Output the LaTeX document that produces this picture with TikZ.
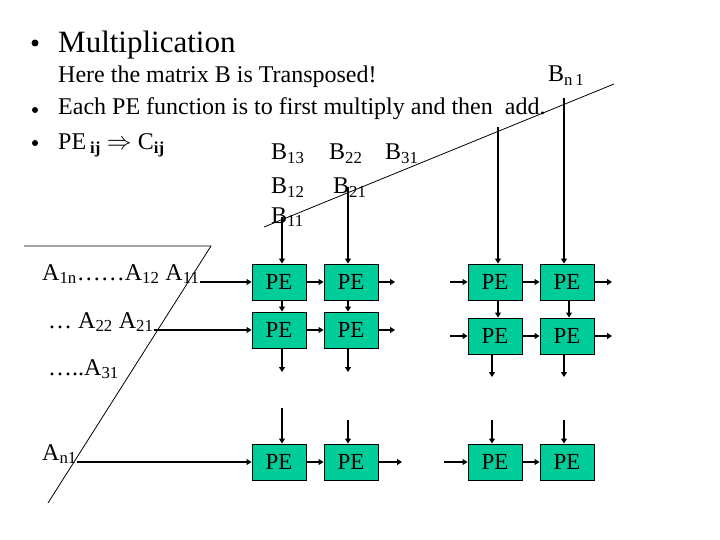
\documentclass[tikz,border=0pt]{standalone}
\usepackage{fontspec}
\setmainfont{Liberation Serif}
\usetikzlibrary{arrows.meta}
\definecolor{pegreen}{RGB}{0,204,153}
\begin{document}
\begin{tikzpicture}[x=1pt,y=-1pt,
  pe/.style={draw=black, line width=1pt, fill=pegreen, minimum width=54pt, minimum height=36pt, inner sep=0pt, font=\fontsize{23}{23}\selectfont},
  arr/.style={line width=1.8pt, -{Triangle[length=5pt,width=6pt]}},
  lbl/.style={anchor=base west, inner sep=0pt, font=\fontsize{24}{28}\selectfont},
  ttl/.style={anchor=base west, inner sep=0pt, font=\fontsize{31}{34}\selectfont},
  bul/.style={circle, fill=black, inner sep=0pt, minimum size=#1},
  slash/.style={line width=0.8pt}]
\useasboundingbox (0,0) rectangle (720,540);
% texts
\node[bul=7pt] (b0) at (35,43) {};
\node[ttl] (title) at (58,53) {Multiplication};
\node[lbl] (here) at (58,83) {Here the matrix B is Transposed!};
\node[bul=6pt] (b1) at (35,110) {};
\node[lbl] (each) at (58,115) {Each PE function is to first multiply and then\ \ add.};
\node[bul=6pt] (b2) at (35,143) {};
\node[lbl] (peij) at (58,150) {PE\,\textsubscript{\textbf{ij}} $\Rightarrow$ C\textsubscript{\textbf{ij}}};
\node[lbl] (b13) at (271,160) {B\textsubscript{13}};
\node[lbl] (b22) at (329,160) {B\textsubscript{22}};
\node[lbl] (b31) at (385,160) {B\textsubscript{31}};
\node[lbl] (b12) at (271,194) {B\textsubscript{12}};
\node[lbl] (b21) at (333,194) {B\textsubscript{21}};
\node[lbl] (b11) at (271,223) {B\textsubscript{11}};
\node[lbl] (bn1) at (548,82) {B\textsubscript{n\,1}};
\node[lbl] (a1) at (42,280) {A\textsubscript{1n}……A\textsubscript{12} A\textsubscript{11}};
\node[lbl] (a2) at (48,328) {… A\textsubscript{22} A\textsubscript{21}};
\node[lbl] (a3) at (48,375) {…..A\textsubscript{31}};
\node[lbl] (an) at (42,460) {A\textsubscript{n1}};
% slanted lines
\coordinate (s1) at (264,227);
\coordinate (s2) at (614,84);
\draw[slash] (s1) -- (s2);
\coordinate (h1) at (24,246);
\coordinate (h2) at (211,246);
\coordinate (h3) at (48,503);
\draw[slash] (h1) -- (h2) -- (h3);
% PE boxes
\node[pe] (p11) at (279,282) {PE};
\node[pe] (p12) at (351,282) {PE};
\node[pe] (p13) at (495,282) {PE};
\node[pe] (p14) at (567,282) {PE};
\node[pe] (p21) at (279,330) {PE};
\node[pe] (p22) at (351,330) {PE};
\node[pe] (p23) at (495,336) {PE};
\node[pe] (p24) at (567,336) {PE};
\node[pe] (p31) at (279,462) {PE};
\node[pe] (p32) at (351,462) {PE};
\node[pe] (p33) at (495,462) {PE};
\node[pe] (p34) at (567,462) {PE};
% coordinates
\coordinate (t1) at (282,217);
\coordinate (t2) at (348,187);
\coordinate (t3) at (498,127);
\coordinate (t4) at (564,98);
\coordinate (d1) at (282,372);
\coordinate (d2) at (348,372);
\coordinate (d3) at (492,377);
\coordinate (d4) at (564,377);
\coordinate (u1) at (282,408);
\coordinate (u2) at (348,420);
\coordinate (u3) at (492,420);
\coordinate (u4) at (564,420);
\coordinate (m4) at (569,300);
\coordinate (r1) at (395,282);
\coordinate (r2) at (395,330);
\coordinate (r3) at (402,462);
\coordinate (l1) at (450,282);
\coordinate (l2) at (450,336);
\coordinate (l3) at (444,462);
\coordinate (e1) at (612,282);
\coordinate (e2) at (612,336);
% vertical arrows
\draw[arr] (t1) -- (t1 |- p11.north);
\draw[arr] (p11.south -| t1) -- (p21.north -| t1);
\draw[arr] (p21.south -| t1) -- (d1);
\draw[arr] (u1) -- (u1 |- p31.north);
\draw[arr] (t2) -- (t2 |- p12.north);
\draw[arr] (p12.south -| t2) -- (p22.north -| t2);
\draw[arr] (p22.south -| t2) -- (d2);
\draw[arr] (u2) -- (u2 |- p32.north);
\draw[arr] (t3) -- (t3 |- p13.north);
\draw[arr] (p13.south -| t3) -- (p23.north -| t3);
\draw[arr] (p23.south -| d3) -- (d3);
\draw[arr] (u3) -- (u3 |- p33.north);
\draw[arr] (t4) -- (t4 |- p14.north);
\draw[arr] (p14.south -| m4) -- (p24.north -| m4);
\draw[arr] (p24.south -| d4) -- (d4);
\draw[arr] (u4) -- (u4 |- p34.north);
% horizontal arrows
\draw[arr] (a1.east |- p11.west) -- (p11.west);
\draw[arr] (p11.east) -- (p12.west);
\draw[arr] (p12.east) -- (r1);
\draw[arr] (l1) -- (p13.west);
\draw[arr] (p13.east) -- (p14.west);
\draw[arr] (p14.east) -- (e1);
\draw[arr] (a2.east |- p21.west) -- (p21.west);
\draw[arr] (p21.east) -- (p22.west);
\draw[arr] (p22.east) -- (r2);
\draw[arr] (l2) -- (p23.west);
\draw[arr] (p23.east) -- (p24.west);
\draw[arr] (p24.east) -- (e2);
\draw[arr] (an.east |- p31.west) -- (p31.west);
\draw[arr] (p31.east) -- (p32.west);
\draw[arr] (p32.east) -- (r3);
\draw[arr] (l3) -- (p33.west);
\draw[arr] (p33.east) -- (p34.west);
\end{tikzpicture}
\end{document}
